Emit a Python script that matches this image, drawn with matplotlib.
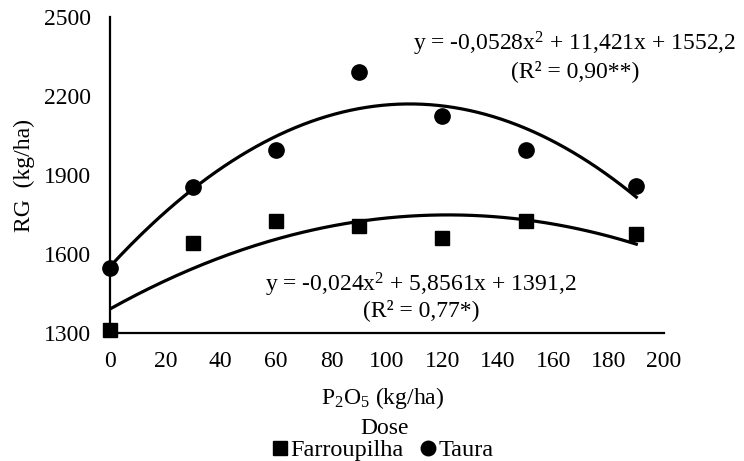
import matplotlib
matplotlib.use('Agg')
import matplotlib.pyplot as plt
import numpy as np

plt.rcParams['font.family'] = ['Liberation Serif', 'DejaVu Serif']
plt.rcParams['mathtext.fontset'] = 'custom'
plt.rcParams['mathtext.rm'] = 'Liberation Serif'
plt.rcParams['mathtext.it'] = 'Liberation Serif:italic'

# dados
dose = [0, 30, 60, 90, 120, 150, 190]
farroupilha = [1310, 1640, 1725, 1705, 1660, 1725, 1675]
taura = [1545, 1855, 1995, 2290, 2125, 1995, 1860]

# coeficientes das equacoes mostradas
coef_farroupilha = [-0.024, 5.8561, 1391.2]
coef_taura = [-0.0528, 11.421, 1552.2]

eq_farroupilha = 'y = -0,024x$^2$ + 5,8561x + 1391,2\n(R² = 0,77*)'
eq_taura = 'y = -0,0528x$^2$ + 11,421x + 1552,2\n(R² = 0,90**)'

fs = 17

fig = plt.figure(figsize=(7.44, 4.61), dpi=100)
ax = fig.add_axes([110 / 744, 1 - 333 / 461, (664 - 110) / 744, (333 - 17) / 461])

xx = np.linspace(0, 190, 200)
ax.plot(xx, np.polyval(coef_farroupilha, xx), color='black', lw=2.3, zorder=2)
ax.plot(xx, np.polyval(coef_taura, xx), color='black', lw=2.3, zorder=2)

ax.plot(dose, farroupilha, 's', color='black', ms=10, ls='none',
        label='Farroupilha', clip_on=False, zorder=3)
ax.plot(dose, taura, 'o', color='black', ms=11, ls='none',
        label='Taura', clip_on=False, zorder=3)

ax.set_xlim(0, 200)
ax.set_ylim(1300, 2500)
ax.set_xticks(range(0, 201, 20))
ax.set_yticks([1300, 1600, 1900, 2200, 2500])
ax.tick_params(length=0, labelsize=fs)
ax.tick_params(axis='x', pad=13)
ax.tick_params(axis='y', pad=14)

for s in ['top', 'right']:
    ax.spines[s].set_visible(False)
for s in ['left', 'bottom']:
    ax.spines[s].set_linewidth(1.6)

ax.set_ylabel('RG  (kg/ha)', fontsize=fs, labelpad=6)

fig.text(383 / 744, 1 - 398 / 461, 'P$_2$O$_5$ (kg/ha)', fontsize=fs,
         ha='center', va='center')
fig.text(385 / 744, 1 - 428 / 461, 'Dose', fontsize=fs, ha='center', va='center')

fig.text(575 / 744, 1 - 56 / 461, eq_taura, fontsize=fs, ha='center',
         va='center', linespacing=1.12)
fig.text(421 / 744, 1 - 296 / 461, eq_farroupilha, fontsize=fs, ha='center',
         va='center', linespacing=1.05)

fig.legend(loc='center', bbox_to_anchor=(382 / 744, 1 - 450 / 461), ncol=2,
           frameon=False, fontsize=fs + 0.5, handletextpad=0.05,
           columnspacing=0.6, handlelength=0.8, borderpad=0, markerscale=0.95)

fig.savefig('out.png', dpi=100)
